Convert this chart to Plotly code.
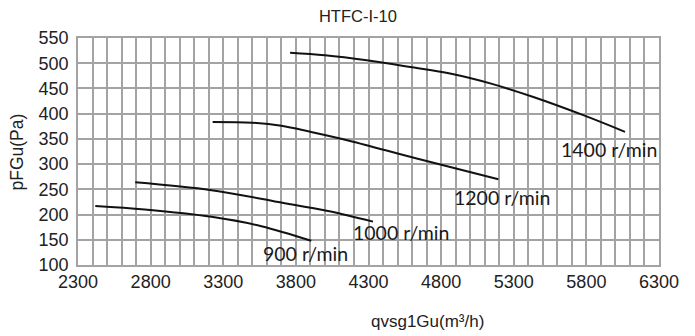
import plotly.graph_objects as go

title_text = "HTFC-I-10"
x_title = "qvsg1Gu(m³/h)"
y_title = "pFGu(Pa)"

speed_labels = ["900 r/min", "1000 r/min", "1200 r/min", "1400 r/min"]

q_900 = [2419, 2759, 3219, 3562, 3906]
p_900 = [217, 210, 195.5, 177, 148]

q_1000 = [2694, 3219, 3679, 4021, 4331]
p_1000 = [264, 248.4, 225, 207, 186]

q_1200 = [3227, 3500, 3700, 3900, 4173, 4632, 5194]
p_1200 = [383.5, 382, 376, 364, 346, 311, 270]

q_1400 = [3760, 4000, 4288, 4600, 4861, 5150, 5435, 5779, 6066]
p_1400 = [521, 516, 506, 492, 479.5, 459, 433, 397, 364]

x_ticks = [2300, 2800, 3300, 3800, 4300, 4800, 5300, 5800, 6300]
y_ticks = [100, 150, 200, 250, 300, 350, 400, 450, 500, 550]

series = [(q_900, p_900), (q_1000, p_1000), (q_1200, p_1200), (q_1400, p_1400)]
label_shift = [(-6, -13), (28, -11), (4, -18), (-16, -18)]

grid_color = "#a3a3a3"
fig = go.Figure()
for (q, p), name in zip(series, speed_labels):
    fig.add_trace(go.Scatter(x=q, y=p, mode="lines", name=name,
                             line=dict(color="#111111", width=2, shape="spline", smoothing=1.0),
                             showlegend=False, hoverinfo="skip"))

annotations = []
for (q, p), name, (dx, dy) in zip(series, speed_labels, label_shift):
    annotations.append(dict(x=q[-1], y=p[-1], xref="x", yref="y", text=name,
                            showarrow=False, xshift=dx, yshift=dy,
                            font=dict(family="Lato", size=19.5, color="#1a1a1a")))

annotations.append(dict(x=0.602, y=-0.2, xref="paper", yref="paper", yanchor="top",
                        text=x_title, showarrow=False,
                        font=dict(family="Liberation Sans", size=17, color="#222")))
annotations.append(dict(x=-0.105, y=0.5, xref="paper", yref="paper", xanchor="center",
                        text=y_title, showarrow=False, textangle=-90,
                        font=dict(family="Liberation Sans", size=17.5, color="#222")))

fig.update_layout(
    width=695, height=336,
    margin=dict(l=78, r=36, t=38, b=71, autoexpand=False),
    paper_bgcolor="white", plot_bgcolor="white",
    title=dict(text=title_text, x=0.515, xanchor="center", y=0.952, yanchor="middle",
               font=dict(family="Liberation Sans", size=16.5, color="#222")),
    annotations=annotations,
    xaxis=dict(range=[2300, 6300], tickvals=x_ticks, ticktext=[str(v) for v in x_ticks],
               showgrid=True, gridcolor=grid_color, gridwidth=1.5,
               minor=dict(dtick=100, tick0=2300, showgrid=True, gridcolor=grid_color, gridwidth=1.5),
               showline=True, linecolor=grid_color, linewidth=1.5, mirror=True,
               zeroline=False, ticks="", ticklen=0, automargin=False,
               tickfont=dict(family="Liberation Sans", size=18, color="#222")),
    yaxis=dict(range=[100, 550], tickvals=y_ticks, ticktext=[str(v) for v in y_ticks],
               showgrid=True, gridcolor=grid_color, gridwidth=1.5,
               showline=True, linecolor=grid_color, linewidth=1.5, mirror=True,
               zeroline=False, ticks="", ticklabelstandoff=4, automargin=False,
               tickfont=dict(family="Liberation Sans", size=18, color="#222")),
)

fig.write_html("out.html", config={"displayModeBar": False},
               post_script="document.body.style.margin='0';document.body.style.overflow='hidden';")
